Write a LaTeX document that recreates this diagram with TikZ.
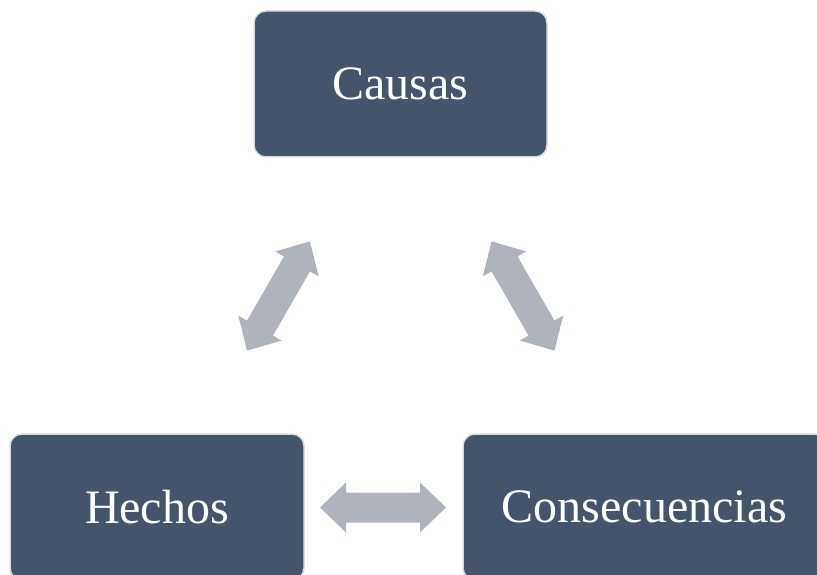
\documentclass[tikz,border=0pt]{standalone}
\usepackage{fontspec}
\setmainfont{Liberation Serif}
\usetikzlibrary{calc}
\definecolor{boxfill}{HTML}{44546A}
\definecolor{boxline}{HTML}{DADCDF}
\definecolor{arrowfill}{RGB}{175,179,187}
\tikzset{
  box/.style={rounded corners=12pt, fill=boxfill, draw=boxline, line width=1.5pt,
    text=white, inner sep=0pt, minimum height=146pt,
    font=\fontsize{48}{58}\selectfont},
  arrowshape/.style={fill=arrowfill}
}
\newcommand\dblarrow[2]{%
  \coordinate (h1) at ($(#1)!26pt!(#2)$);
  \coordinate (h2) at ($(#2)!26pt!(#1)$);
  \fill[arrowshape] (#1)
    -- ($(h1)!25pt!90:(#2)$) -- ($(h1)!15pt!90:(#2)$)
    -- ($(h2)!15pt!-90:(#1)$) -- ($(h2)!25pt!-90:(#1)$)
    -- (#2)
    -- ($(h2)!25pt!90:(#1)$) -- ($(h2)!15pt!90:(#1)$)
    -- ($(h1)!15pt!-90:(#2)$) -- ($(h1)!25pt!-90:(#2)$)
    -- cycle;%
}
\begin{document}
\begin{tikzpicture}[x=1pt,y=-1pt]
\useasboundingbox (0,0) rectangle (817,575);
\node[box, minimum width=293pt] (causas) at (400.5,84) {Causas};
\node[box, minimum width=294pt] (hechos) at (157,507) {Hechos};
\node[box, minimum width=363pt] (cons) at (644.5,507) {Consecuencias};
% arrow end points
\coordinate (l1) at (247,350.6);
\coordinate (l2) at (310,241.4);
\coordinate (r1) at (491.5,241.4);
\coordinate (r2) at (554.5,350.6);
\coordinate (b1) at (320,507.5);
\coordinate (b2) at (446,507.5);
\dblarrow{l1}{l2}
\dblarrow{r1}{r2}
\dblarrow{b1}{b2}
\end{tikzpicture}
\end{document}
